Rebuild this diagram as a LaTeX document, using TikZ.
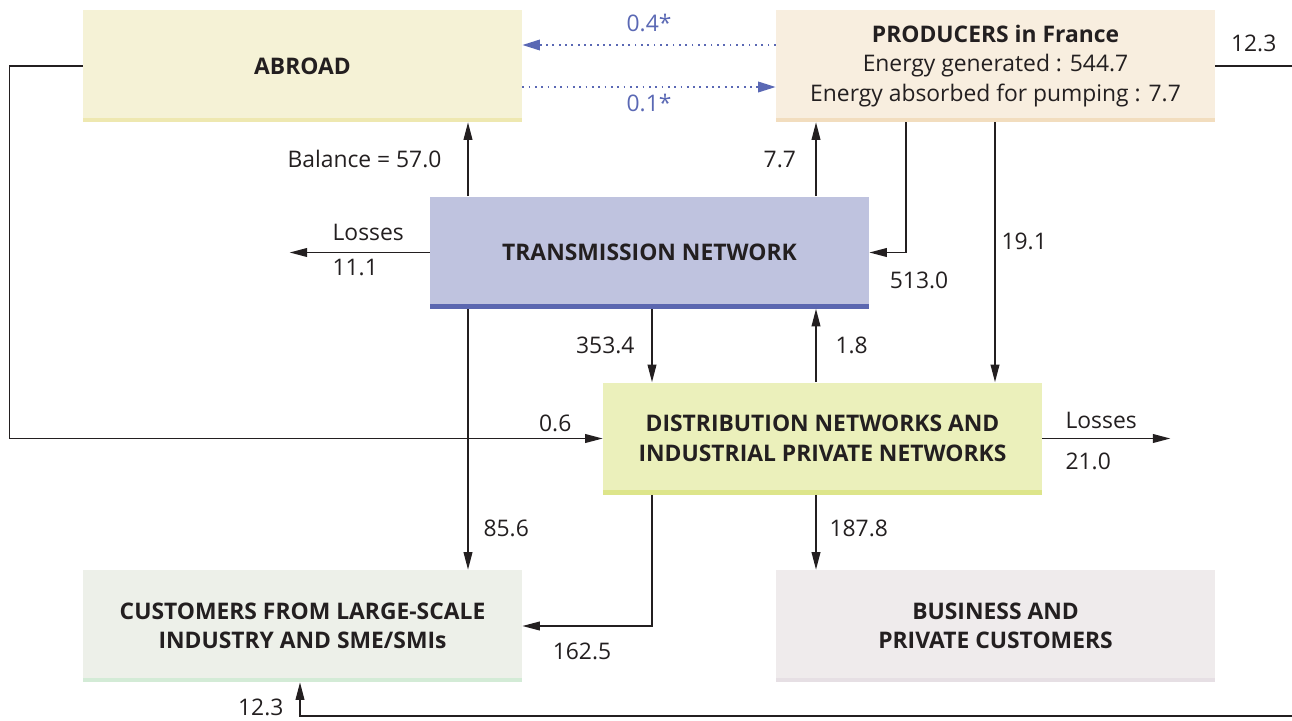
\documentclass[tikz,border=0pt]{standalone}
\usepackage{fontspec}
\setmainfont{Open Sans}
\usetikzlibrary{arrows.meta,positioning}
\definecolor{ink}{HTML}{231F20}
\definecolor{impblue}{HTML}{5A68B4}
\definecolor{abroadfill}{HTML}{F5F2D6}
\definecolor{abroadline}{HTML}{EEE8B0}
\definecolor{prodfill}{HTML}{F8EEDF}
\definecolor{prodline}{HTML}{F2DDBE}
\definecolor{transfill}{HTML}{BFC3DF}
\definecolor{transline}{HTML}{5B67B0}
\definecolor{distfill}{HTML}{EBF0BB}
\definecolor{distline}{HTML}{DDE58A}
\definecolor{custfill}{HTML}{EDF0E9}
\definecolor{custline}{HTML}{D3EBD6}
\definecolor{bizfill}{HTML}{EFEBEC}
\definecolor{bizline}{HTML}{E6DFE4}

\begin{document}
\begin{tikzpicture}[
    font=\fontsize{13}{16.8}\selectfont, text=ink,
    box/.style 2 args={fill=#1, minimum width=8.78cm, minimum height=2.24cm,
        align=center, inner sep=0pt, font=\fontsize{13}{16.8}\selectfont,
        path picture={\fill[#2] ([yshift=0.09cm]path picture bounding box.south west)
            rectangle (path picture bounding box.south east);}},
    flow/.style={draw=ink, line width=0.8pt, -{Triangle[length=10pt,width=5pt]}},
    wire/.style={draw=ink, line width=0.8pt},
    trade/.style={draw=impblue, line width=1pt, dash pattern=on 1pt off 2.6pt,
        -{Triangle[length=10pt,width=6pt]}},
    tradelabel/.style={text=impblue}
]
    \useasboundingbox (0,0) rectangle (25.84,-14.4);

    % Boxes
    \node[box={abroadfill}{abroadline}] (abroad) at (6.05,-1.32) {\textbf{ABROAD}};
    \node[box={prodfill}{prodline}] (prod) at (19.91,-1.32)
        {\textbf{PRODUCERS in France}\\Energy generated : 544.7\\Energy absorbed for pumping : 7.7};
    \node[box={transfill}{transline}] (trans) at (12.99,-5.05) {\textbf{TRANSMISSION NETWORK}};
    \node[box={distfill}{distline}] (dist) at (16.45,-8.77)
        {\textbf{DISTRIBUTION NETWORKS AND}\\\textbf{INDUSTRIAL PRIVATE NETWORKS}};
    \node[box={custfill}{custline}] (cust) at (6.05,-12.52)
        {\textbf{CUSTOMERS FROM LARGE-SCALE}\\\textbf{INDUSTRY AND SME/SMIs}};
    \node[box={bizfill}{bizline}] (biz) at (19.91,-12.52)
        {\textbf{BUSINESS AND}\\\textbf{PRIVATE CUSTOMERS}};

    % Columns of the vertical flows
    \coordinate (colA) at (9.36,0);
    \coordinate (colB) at (13.04,0);
    \coordinate (colC) at (16.32,0);
    \coordinate (colD) at (18.12,0);
    \coordinate (colE) at (19.90,0);
    \coordinate (colF) at (6.00,0);
    \coordinate (lossT) at ([xshift=-2.8cm]trans.west);
    \coordinate (lossD) at ([xshift=2.56cm]dist.east);
    \coordinate (outR) at (25.84,0 |- prod.east);
    \coordinate (outB) at (25.84,-14.32);

    % Exchanges with abroad
    \draw[trade] ([yshift=0.42cm]prod.west) -- node[above=0.12cm, tradelabel]{0.4*} ([yshift=0.42cm]abroad.east);
    \draw[trade] ([yshift=-0.42cm]abroad.east) -- node[below, tradelabel]{0.1*} ([yshift=-0.42cm]prod.west);
    \draw[flow] (abroad.west) -- ++(-1.46,0) |- node[pos=0.96, above]{0.6} (dist.west);

    % Transmission network
    \draw[flow] (colA |- trans.north) -- node[left=0.4cm]{Balance = 57.0} (colA |- abroad.south);
    \draw[flow] (colC |- trans.north) -- node[left=0.27cm]{7.7} (colC |- prod.south);
    \draw[flow] (colD |- prod.south) |- node[pos=1, below right=0.25cm and 0.28cm]{513.0} (trans.east);
    \draw[flow] (trans.west) -- node[pos=0.74, above right=0.1cm and 0cm]{Losses} node[pos=0.74, below right]{11.1} (lossT);
    \draw[flow] (colB |- trans.south) -- node[left=0.22cm]{353.4} (colB |- dist.north);
    \draw[flow] (colC |- dist.north) -- node[right=0.26cm]{1.8} (colC |- trans.south);
    \draw[flow] (colA |- trans.south) -- node[pos=0.84, right=0.18cm]{85.6} (colA |- cust.north);

    % Distribution networks
    \draw[flow] (colE |- prod.south) -- node[pos=0.46, right]{19.1} (colE |- dist.north);
    \draw[flow] (dist.east) -- node[pos=0.13, above right=0.06cm and 0cm]{Losses} node[pos=0.13, below right=0.16cm and 0cm]{21.0} (lossD);
    \draw[flow] (colB |- dist.south) |- node[pos=0.77, below=0.2cm]{162.5} (cust.east);
    \draw[flow] (colC |- dist.south) -- node[pos=0.45, right=0.14cm]{187.8} (colC |- biz.north);

    % Direct supply from producers
    \draw[wire] (prod.east) -- node[above=0.16cm]{12.3} (outR);
    \draw[flow] (outB) -| node[pos=0.5, left=0.2cm, yshift=0.17cm]{12.3} (colF |- cust.south);
\end{tikzpicture}
\end{document}
